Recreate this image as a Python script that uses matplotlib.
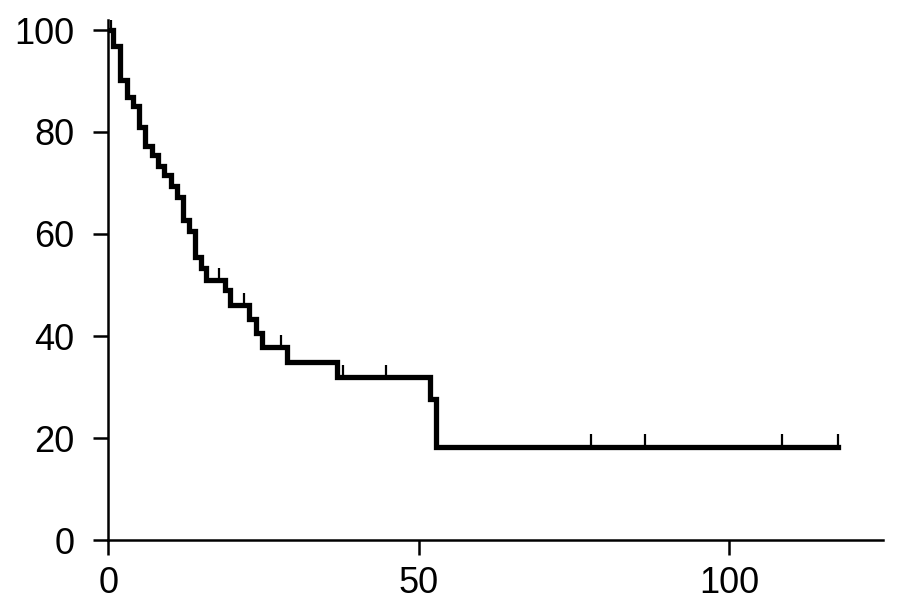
import numpy as np
import matplotlib
matplotlib.use('Agg')
import matplotlib.pyplot as plt

plt.rcParams['font.family'] = ['Liberation Sans', 'DejaVu Sans']

# Kaplan-Meier steps
event_times = [0, 0.8, 1.9, 3.0, 3.9, 4.9, 5.9, 7.0, 8.0, 9.0, 10.1, 11.1, 12.0,
               13.0, 14.0, 14.9, 15.8, 18.8, 19.6, 22.7, 23.8, 24.8, 28.8, 36.8,
               51.8, 52.8]
survival = [100, 96.9, 90.1, 86.8, 85.1, 81.0, 77.3, 75.5, 73.4, 71.6, 69.5, 67.3,
            62.7, 60.5, 55.5, 53.3, 51.0, 49.0, 46.1, 43.3, 40.6, 37.8, 35.0, 32.0,
            27.6, 18.3]
last_time = 117.6
censor_times = [0.4, 17.8, 21.9, 27.8, 37.8, 44.8, 77.7, 86.5, 108.6, 117.6]
xticks = [0, 50, 100]
yticks = [0, 20, 40, 60, 80, 100]

fig = plt.figure(figsize=(9, 6.1), dpi=100)
ax = fig.add_axes([108.3 / 900, 70 / 610, (883 - 108.3) / 900, 520.2 / 610])

t = np.array(event_times + [last_time])
s = np.array(survival + [survival[-1]])
ax.step(t, s, where='post', color='black', lw=3.8, solid_joinstyle='miter')

# censor marks
idx = np.searchsorted(event_times, censor_times, side='right') - 1
cs = np.array(survival)[idx]
ax.vlines(censor_times, cs, cs + 2.4, color='black', lw=1.6)

ax.set_xlim(0, 124.8)
ax.set_ylim(0, 102)
ax.set_xticks(xticks)
ax.set_yticks(yticks)
for side in ['top', 'right']:
    ax.spines[side].set_visible(False)
for side in ['left', 'bottom']:
    ax.spines[side].set_linewidth(1.8)
ax.tick_params(axis='both', direction='out', length=10.5, width=1.8, labelsize=26)
ax.tick_params(axis='y', pad=14)
ax.tick_params(axis='x', pad=8)

fig.savefig('out.png', dpi=100)
